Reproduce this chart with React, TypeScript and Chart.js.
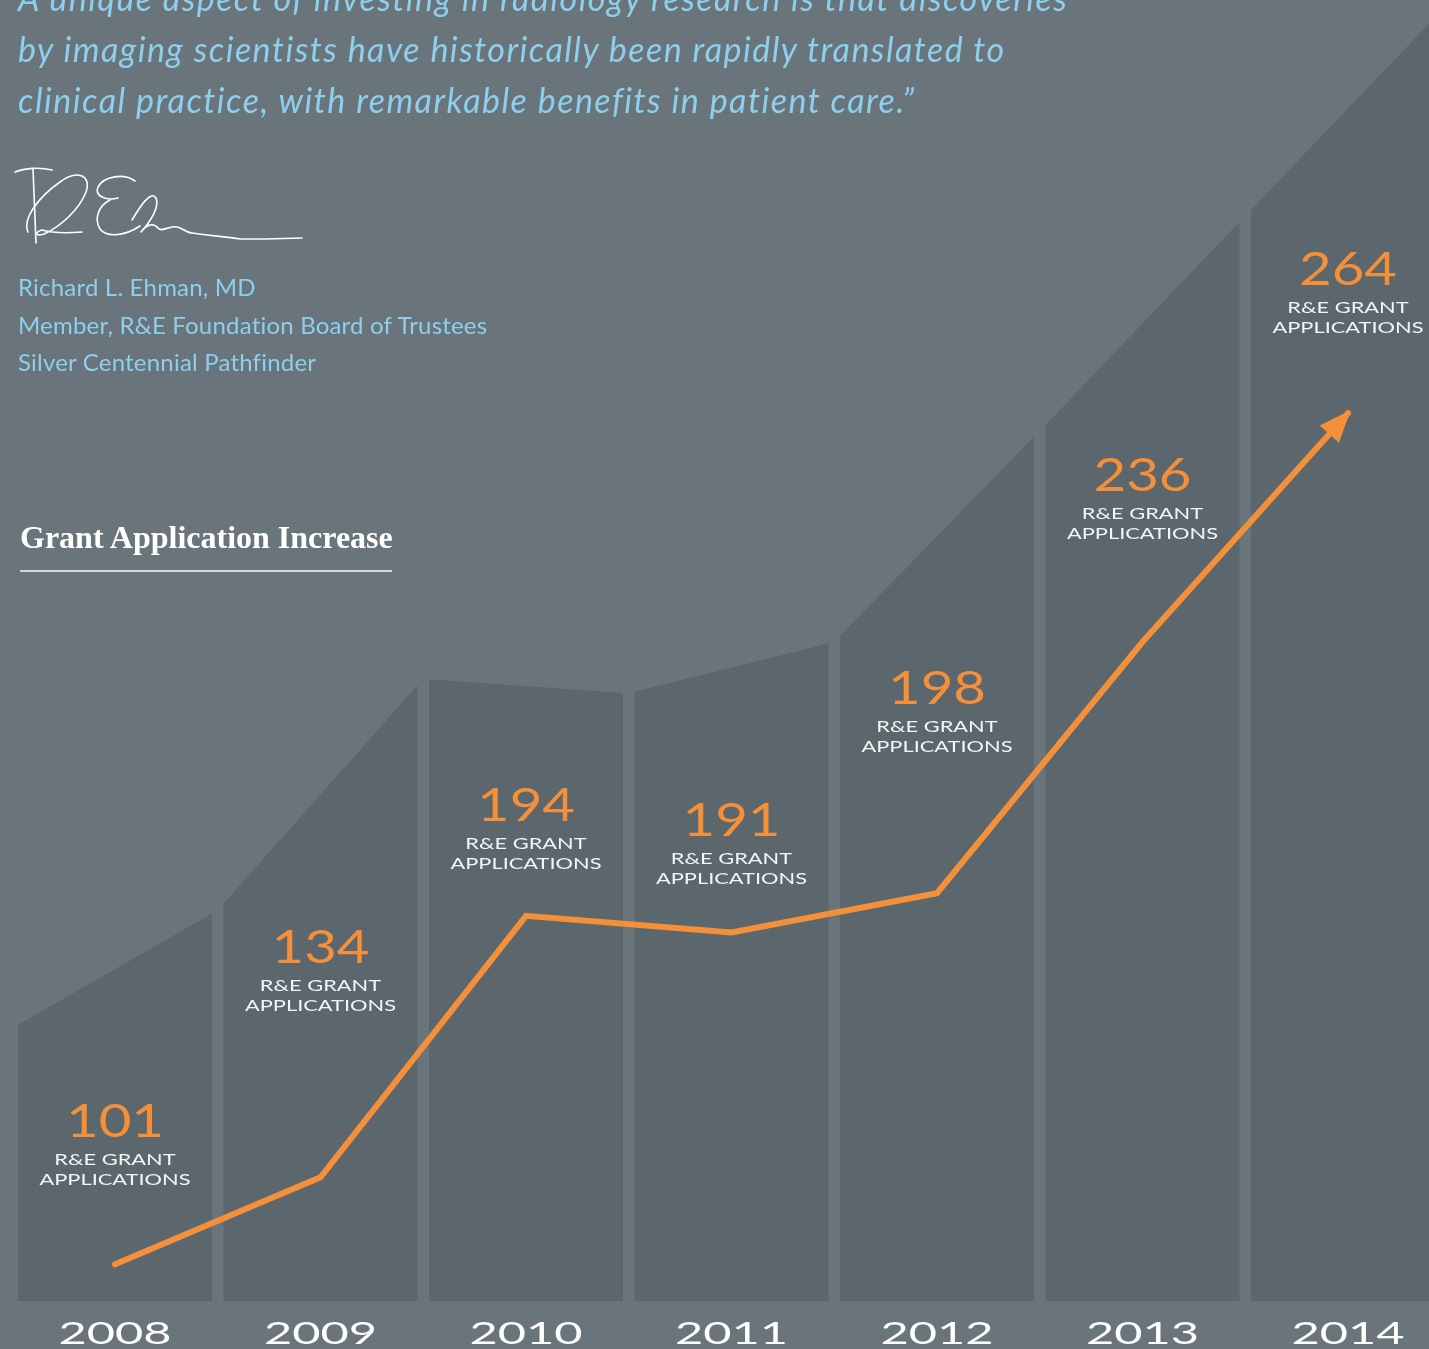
import React, { useEffect, useRef } from 'react';
import { Chart, registerables, LinearScale } from 'chart.js';

// ---------- data ----------
const years = [2008, 2009, 2010, 2011, 2012, 2013, 2014];
const yearLabels = ['2008', '2009', '2010', '2011', '2012', '2013', '2014'];
const applications = [101, 134, 194, 191, 198, 236, 264];
const captionLines = ['R&E GRANT', 'APPLICATIONS'];
// decorative skyline behind the columns, at the boundaries 2007.5 … 2014.5 (applications units)
const skylineLevels = [172, 195, 231, 229, 236, 262, 285, 305.5];
const quoteLines = [
  'A unique aspect of investing in radiology research is that discoveries',
  'by imaging scientists have historically been rapidly translated to',
  'clinical practice, with remarkable benefits in patient care.\u201D',
];
const attributionLines = [
  'Richard L. Ehman, MD',
  'Member, R&E Foundation Board of Trustees',
  'Silver Centennial Pathfinder',
];
const chartTitle = 'Grant Application Increase';

// ---------- styles ----------
const BG = '#69747b';
const COLUMN = '#5c666d';
const ORANGE = '#f5903a';
const BLUE = '#8ecfee';
const WHITE = '#f4f5f5';

// power scale (value^exponent) so the stylised curve follows the infographic
class PowerScale extends LinearScale {
  static id = 'power';
  static defaults = { ...(LinearScale as any).defaults };
  _exp() {
    return (this as any).options.exponent || 1;
  }
  _pow(v: number) {
    return Math.pow(Math.max(v, 0), this._exp());
  }
  getPixelForValue(value: number) {
    const lo = this._pow((this as any).min);
    const hi = this._pow((this as any).max);
    return (this as any).getPixelForDecimal((this._pow(value) - lo) / (hi - lo));
  }
  getValueForPixel(pixel: number) {
    const lo = this._pow((this as any).min);
    const hi = this._pow((this as any).max);
    const t = (this as any).getDecimalForPixel(pixel);
    return Math.pow(lo + t * (hi - lo), 1 / this._exp());
  }
}

Chart.register(...registerables, PowerScale as any);

const FLOOR_BAND = 48; // px strip under the columns holding the year labels
const COL_HALF = 0.472; // half column width in year units

function columnTop(chart: any, i: number, px: number) {
  const x = chart.scales.x;
  const y = chart.scales.y;
  const x0 = x.getPixelForValue(years[i] - 0.5);
  const x1 = x.getPixelForValue(years[i] + 0.5);
  const b0 = y.getPixelForValue(skylineLevels[i]);
  const b1 = y.getPixelForValue(skylineLevels[i + 1]);
  return b0 + ((b1 - b0) * (px - x0)) / (x1 - x0);
}

const backdropPlugin = {
  id: 'backdrop',
  beforeDatasetsDraw(chart: any) {
    const { ctx, chartArea } = chart;
    const x = chart.scales.x;
    const floor = chartArea.bottom - FLOOR_BAND;
    ctx.save();
    ctx.fillStyle = COLUMN;
    years.forEach((yr, i) => {
      const xl = x.getPixelForValue(yr - COL_HALF);
      const xr = x.getPixelForValue(yr + COL_HALF);
      ctx.beginPath();
      ctx.moveTo(xl, floor);
      ctx.lineTo(xl, columnTop(chart, i, xl));
      ctx.lineTo(xr, columnTop(chart, i, xr));
      ctx.lineTo(xr, floor);
      ctx.closePath();
      ctx.fill();
    });
    ctx.restore();
  },
};

function stretchText(ctx: CanvasRenderingContext2D, text: string, cx: number, base: number, font: string, sx: number, color: string) {
  ctx.save();
  ctx.font = font;
  ctx.fillStyle = color;
  ctx.textAlign = 'center';
  ctx.textBaseline = 'alphabetic';
  ctx.translate(cx, base);
  ctx.scale(sx, 1);
  ctx.fillText(text, 0, 0);
  ctx.restore();
}

const NUM_FONT = '400 46px Lato';
const CAP_FONT = '400 15px Lato';
const YEAR_FONT = '400 31px Lato';

const labelPlugin = {
  id: 'labels',
  afterDatasetsDraw(chart: any) {
    const { ctx, chartArea } = chart;
    const x = chart.scales.x;
    const pts = chart.getDatasetMeta(0).data;

    // arrow head
    const p1 = pts[pts.length - 1];
    const p0 = pts[pts.length - 2];
    const dx = p1.x - p0.x;
    const dy = p1.y - p0.y;
    const len = Math.hypot(dx, dy);
    const ux = dx / len;
    const uy = dy / len;
    const tipX = p1.x + ux * 4;
    const tipY = p1.y + uy * 4;
    const bx = tipX - ux * 32;
    const by = tipY - uy * 32;
    const hw = 13;
    ctx.save();
    ctx.fillStyle = ORANGE;
    ctx.beginPath();
    ctx.moveTo(tipX, tipY);
    ctx.lineTo(bx - uy * hw, by + ux * hw);
    ctx.lineTo(bx + uy * hw, by - ux * hw);
    ctx.closePath();
    ctx.fill();
    ctx.restore();

    ctx.save();
    ctx.font = NUM_FONT;
    const sNum = 98 / ctx.measureText('198').width;
    ctx.font = CAP_FONT;
    const sCap = 151 / ctx.measureText('APPLICATIONS').width;
    ctx.font = YEAR_FONT;
    const sYear = 113 / ctx.measureText('2008').width;
    ctx.restore();

    years.forEach((yr, i) => {
      const cx = x.getPixelForValue(yr);
      const xl = x.getPixelForValue(yr - COL_HALF);
      const xr = Math.min(x.getPixelForValue(yr + COL_HALF), chartArea.right);
      const mid = (columnTop(chart, i, xl) + columnTop(chart, i, xr)) / 2;
      const base = Math.min(mid + 168, pts[i].y - 95);
      stretchText(ctx, String(applications[i]), cx, base, NUM_FONT, sNum, ORANGE);
      stretchText(ctx, captionLines[0], cx, base + 28, CAP_FONT, sCap, WHITE);
      stretchText(ctx, captionLines[1], cx, base + 48, CAP_FONT, sCap, WHITE);
      stretchText(ctx, yearLabels[i], cx, chartArea.bottom - 5, YEAR_FONT, sYear, '#ffffff');
    });
  },
};

function GrantChart() {
  const ref = useRef<HTMLCanvasElement | null>(null);
  useEffect(() => {
    if (!ref.current) return;
    const chart = new Chart(ref.current, {
      type: 'line',
      data: {
        datasets: [
          {
            data: years.map((yr, i) => ({ x: yr, y: applications[i] })),
            borderColor: ORANGE,
            borderWidth: 6,
            borderCapStyle: 'round',
            borderJoinStyle: 'miter',
            pointRadius: 0,
            tension: 0,
            fill: false,
          },
        ],
      },
      options: {
        animation: false,
        responsive: false,
        events: [],
        layout: { padding: 0 },
        plugins: { legend: { display: false }, tooltip: { enabled: false } },
        scales: {
          x: { type: 'linear', min: 2007.4404, max: 2014.3942, display: false },
          y: { type: 'power', exponent: 2.5, min: 0, max: 305.6, display: false } as any,
        },
      } as any,
      plugins: [backdropPlugin, labelPlugin],
    });
    return () => chart.destroy();
  }, []);
  return <canvas ref={ref} width={1429} height={1349} style={{ position: 'absolute', left: 0, top: 0, width: 1429, height: 1349 }} />;
}

export default function App() {
  return (
    <div style={{ position: 'absolute', left: 0, top: 0, width: 1429, height: 1349, background: BG, overflow: 'hidden' }}>
      <GrantChart />
      <div
        style={{
          position: 'absolute', left: 18, top: -28, color: BLUE, fontFamily: 'Lato', fontStyle: 'italic',
          fontWeight: 400, fontSize: 34, lineHeight: '51px', whiteSpace: 'nowrap', letterSpacing: 1.45,
        }}
      >
        {quoteLines.map((l, i) => (
          <div key={i}>{l}</div>
        ))}
      </div>
      <svg width={320} height={260} style={{ position: 'absolute', left: 0, top: 0 }}>
        <g fill="none" stroke="#ffffff" strokeWidth={1.6} strokeLinecap="round" strokeLinejoin="round">
          <path d="M15 172 C 25 168, 40 167, 52 170" />
          <path d="M33 169 C 34 190, 35 220, 36 243" />
          <path d="M28 232 C 22 218, 40 196, 60 182 C 76 170, 92 174, 86 192 C 80 208, 62 226, 44 234 C 36 237, 34 232, 42 230 C 56 234, 70 233, 82 232" />
          <path d="M135 181 C 124 173, 104 176, 98 187 C 94 196, 106 201, 118 198 M 110 200 C 98 206, 94 219, 100 229 C 107 238, 125 236, 140 226" />
          <path d="M132 220 C 141 205, 151 190, 156 198 C 160 207, 150 222, 141 232 C 146 225, 153 222, 158 228 C 162 233, 169 225, 177 227 C 183 228, 186 233, 192 233 C 205 235, 228 237, 240 239 L 266 239 L 302 238" />
        </g>
      </svg>
      <div
        style={{
          position: 'absolute', left: 18, top: 268, color: BLUE, fontFamily: 'Lato', fontWeight: 400,
          fontSize: 24, lineHeight: '37.5px', whiteSpace: 'nowrap', letterSpacing: 0.2,
        }}
      >
        {attributionLines.map((l, i) => (
          <div key={i}>{l}</div>
        ))}
      </div>
      <div
        style={{
          position: 'absolute', left: 20, top: 521, color: '#ffffff', fontFamily: '"Liberation Serif", serif',
          fontWeight: 700, fontSize: 32, lineHeight: '32px', whiteSpace: 'nowrap',
        }}
      >
        {chartTitle}
      </div>
      <div style={{ position: 'absolute', left: 20, top: 570, width: 372, height: 2, background: '#d3d7da' }} />
    </div>
  );
}
